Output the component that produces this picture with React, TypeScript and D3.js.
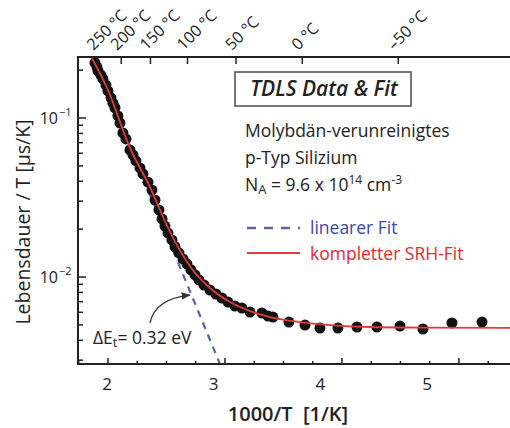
import React from 'react'
import * as d3 from 'd3'

const W = 510
const H = 428
const FONT = '"Open Sans", "DejaVu Sans", sans-serif'

// measured points: 1000/T [1/K] and lifetime/T [us/K]
const dataX = [
  1.889, 1.906, 1.915, 1.94, 1.957, 1.983, 2.0, 2.026, 2.043, 2.06, 2.085, 2.103, 2.128, 2.154,
  2.188, 2.214, 2.239, 2.274, 2.299, 2.342, 2.376, 2.402, 2.436, 2.462, 2.487, 2.513, 2.547,
  2.573, 2.607, 2.641, 2.675, 2.709, 2.744, 2.778, 2.821, 2.872, 2.923, 2.974, 3.026, 3.085,
  3.145, 3.214, 3.316, 3.368, 3.41, 3.547, 3.684, 3.812, 3.966, 4.128, 4.299, 4.496, 4.692,
  4.94, 5.197
]
const dataY = [
  0.222, 0.209, 0.198, 0.186, 0.176, 0.161, 0.148, 0.134, 0.124, 0.116, 0.103, 0.093, 0.0805,
  0.0738, 0.063, 0.0585, 0.0537, 0.0485, 0.0445, 0.0395, 0.0352, 0.0305, 0.0264, 0.0232, 0.0209,
  0.0189, 0.0171, 0.0155, 0.0142, 0.013, 0.0121, 0.0111, 0.0103, 0.00958, 0.00891, 0.00828,
  0.00781, 0.00738, 0.00696, 0.00657, 0.00638, 0.00602, 0.00594, 0.00568, 0.0056, 0.00521,
  0.00499, 0.00478, 0.00478, 0.00485, 0.00485, 0.00492, 0.00471, 0.00514, 0.00521
]

// complete SRH fit
const fitX = [1.85, 2.0, 2.188, 2.359, 2.53, 2.701, 2.872, 3.043, 3.214, 3.385, 3.641, 3.897, 4.239, 4.667, 5.6]
const fitY = [0.248, 0.15, 0.0648, 0.0368, 0.0192, 0.0117, 0.00853, 0.00696, 0.00611, 0.0056, 0.00521, 0.00499, 0.00485, 0.00481, 0.00478]

// linear (Arrhenius) fit end points
const linX = [1.879, 2.957]
const linY = [0.238, 0.00284]

const xMajor = [2, 3, 4, 5]
const xLabels = ['2', '3', '4', '5']
const tempC = [250, 200, 150, 100, 50, 0, -50]
const tempLabels = ['250 °C', '200 °C', '150 °C', '100 °C', '50 °C', '0 °C', '–50 °C']
const yMajor = [0.01, 0.1]
const yExp = ['−2', '−1']

const left = 78
const top = 57
const bottom = 364

export default function App() {
  const x = d3.scaleLinear().domain([1.744, 5.7]).range([left, left + (5.7 - 1.744) * 117])
  // tick labels in the original are set on a slightly tighter grid than the ticks
  const xLab = d3.scaleLinear().domain([2, 5]).range([107, 427])
  const y = d3.scaleLog().domain([Math.pow(10, -2.547), Math.pow(10, -0.6164)]).range([bottom, top])

  const xMinor = d3.range(1.75, 5.8, 0.25).filter(v => Math.abs(v - Math.round(v)) > 0.01)
  const yMinor: number[] = []
  ;[-3, -2, -1].forEach(e => {
    for (let m = 2; m <= 9; m++) {
      const v = m * Math.pow(10, e)
      if (v >= y.domain()[0] && v <= y.domain()[1]) yMinor.push(v)
    }
  })

  const fitLine = d3.line<number>().x((d, i) => x(fitX[i])).y((d, i) => y(fitY[i])).curve(d3.curveMonotoneX)
  const linLine = d3.line<number>().x((d, i) => x(linX[i])).y((d, i) => y(linY[i]))

  return (
    <div style={{ position: 'absolute', left: 0, top: 0 }}>
      <svg width={W} height={H} style={{ display: 'block', background: '#fff', fontFamily: FONT }}>
        <defs>
          <clipPath id="plot">
            <rect x={left} y={top} width={W - left} height={bottom - top} />
          </clipPath>
          <marker id="arr" viewBox="0 0 10 10" refX="9" refY="5" markerWidth="7" markerHeight="7" orient="auto">
            <path d="M0,1 L10,5 L0,9 Z" fill="#333" />
          </marker>
        </defs>

        {/* top temperature axis */}
        {tempC.map((t, i) => {
          const px = x(1000 / (t + 273.15))
          return (
            <g key={t}>
              <line x1={px} x2={px} y1={top} y2={top + 7} stroke="#222" strokeWidth={1.5} />
              <text
                transform={`translate(${px - 4},${top - 6}) rotate(-45)`}
                fontSize={16}
                fill="#222"
              >
                {tempLabels[i]}
              </text>
            </g>
          )
        })}

        {/* bottom ticks */}
        {xMajor.map((v, i) => (
          <g key={v}>
            <line x1={x(v)} x2={x(v)} y1={bottom} y2={bottom - 6} stroke="#222" strokeWidth={1.5} />
            <text x={xLab(v)} y={390} textAnchor="middle" fontSize={17} fill="#222">
              {xLabels[i]}
            </text>
          </g>
        ))}
        {xMinor.map(v => (
          <line key={v} x1={x(v)} x2={x(v)} y1={bottom} y2={bottom - 3} stroke="#222" strokeWidth={1.5} />
        ))}

        {/* left log ticks */}
        {yMajor.map((v, i) => (
          <g key={v}>
            <line x1={left} x2={left + 8} y1={y(v)} y2={y(v)} stroke="#222" strokeWidth={1.5} />
            <text x={58} y={y(v) + 6} textAnchor="end" fontSize={16} fill="#222">
              10
            </text>
            <text x={59} y={y(v) - 2} fontSize={11} fill="#222">
              {yExp[i]}
            </text>
          </g>
        ))}
        {yMinor.map(v => (
          <line key={v} x1={left} x2={left + 5} y1={y(v)} y2={y(v)} stroke="#222" strokeWidth={1.5} />
        ))}

        {/* data and fits */}
        <g clipPath="url(#plot)">
          <path d={linLine(linX) || ''} fill="none" stroke="#5563a8" strokeWidth={2.2} strokeDasharray="7,6" />
          {dataX.map((v, i) => (
            <circle key={i} cx={x(v)} cy={y(dataY[i])} r={5.5} fill="#111" />
          ))}
          <path d={fitLine(fitX) || ''} fill="none" stroke="#e23a35" strokeWidth={1.8} />
        </g>

        {/* frame */}
        <path d={`M${W + 5},${top} H${left} V${bottom} H${W + 5}`} fill="none" stroke="#222" strokeWidth={2} />

        {/* title box */}
        <rect x={235} y={72} width={176} height={34} fill="#fff" stroke="#555" strokeWidth={1.6} />
        <text x={324} y={96} textAnchor="middle" fontSize={21} fontStyle="italic" fontWeight={600} fill="#222">
          TDLS Data &amp; Fit
        </text>

        {/* description */}
        <g fontSize={17.5} fill="#222">
          <text x={245} y={137}>Molybdän-verunreinigtes</text>
          <text x={245} y={164}>p-Typ Silizium</text>
          <text x={245} y={191}>
            N<tspan fontSize={13} dy={3}>A</tspan>
            <tspan dy={-3}> = 9.6 x 10</tspan>
            <tspan fontSize={12} dy={-7}>14</tspan>
            <tspan dy={7}> cm</tspan>
            <tspan fontSize={12} dy={-7}>-3</tspan>
          </text>
        </g>

        {/* legend */}
        <line x1={247} x2={300} y1={228} y2={228} stroke="#5563a8" strokeWidth={2.5} strokeDasharray="9,8" />
        <text x={310} y={234} fontSize={17.5} fill="#3a48a8">linearer Fit</text>
        <line x1={247} x2={300} y1={253} y2={253} stroke="#e23a35" strokeWidth={2} />
        <text x={310} y={260} fontSize={17.5} fill="#e8282c">kompletter SRH-Fit</text>

        {/* activation energy annotation */}
        <path
          d={`M${x(2.36)},${y(0.00514)} Q${x(2.4)},${y(0.0073)} ${x(2.7)},${y(0.0077)}`}
          fill="none"
          stroke="#333"
          strokeWidth={1.3}
          markerEnd="url(#arr)"
        />
        <text x={x(1.872)} y={y(0.00379)} fontSize={17.5} fill="#222">
          ΔE<tspan fontSize={13} dy={3}>t</tspan>
          <tspan dy={-3}>= 0.32 eV</tspan>
        </text>

        {/* axis titles */}
        <text x={288} y={421} textAnchor="middle" fontSize={20} fontWeight={600} fill="#222">
          {'1000/T\u00a0\u00a0[1/K]'}
        </text>
        <text
          transform="translate(30,222) rotate(-90)"
          textAnchor="middle"
          fontSize={19.5}
          fontWeight={500}
          fill="#222"
        >
          Lebensdauer / T [µs/K]
        </text>
      </svg>
    </div>
  )
}
